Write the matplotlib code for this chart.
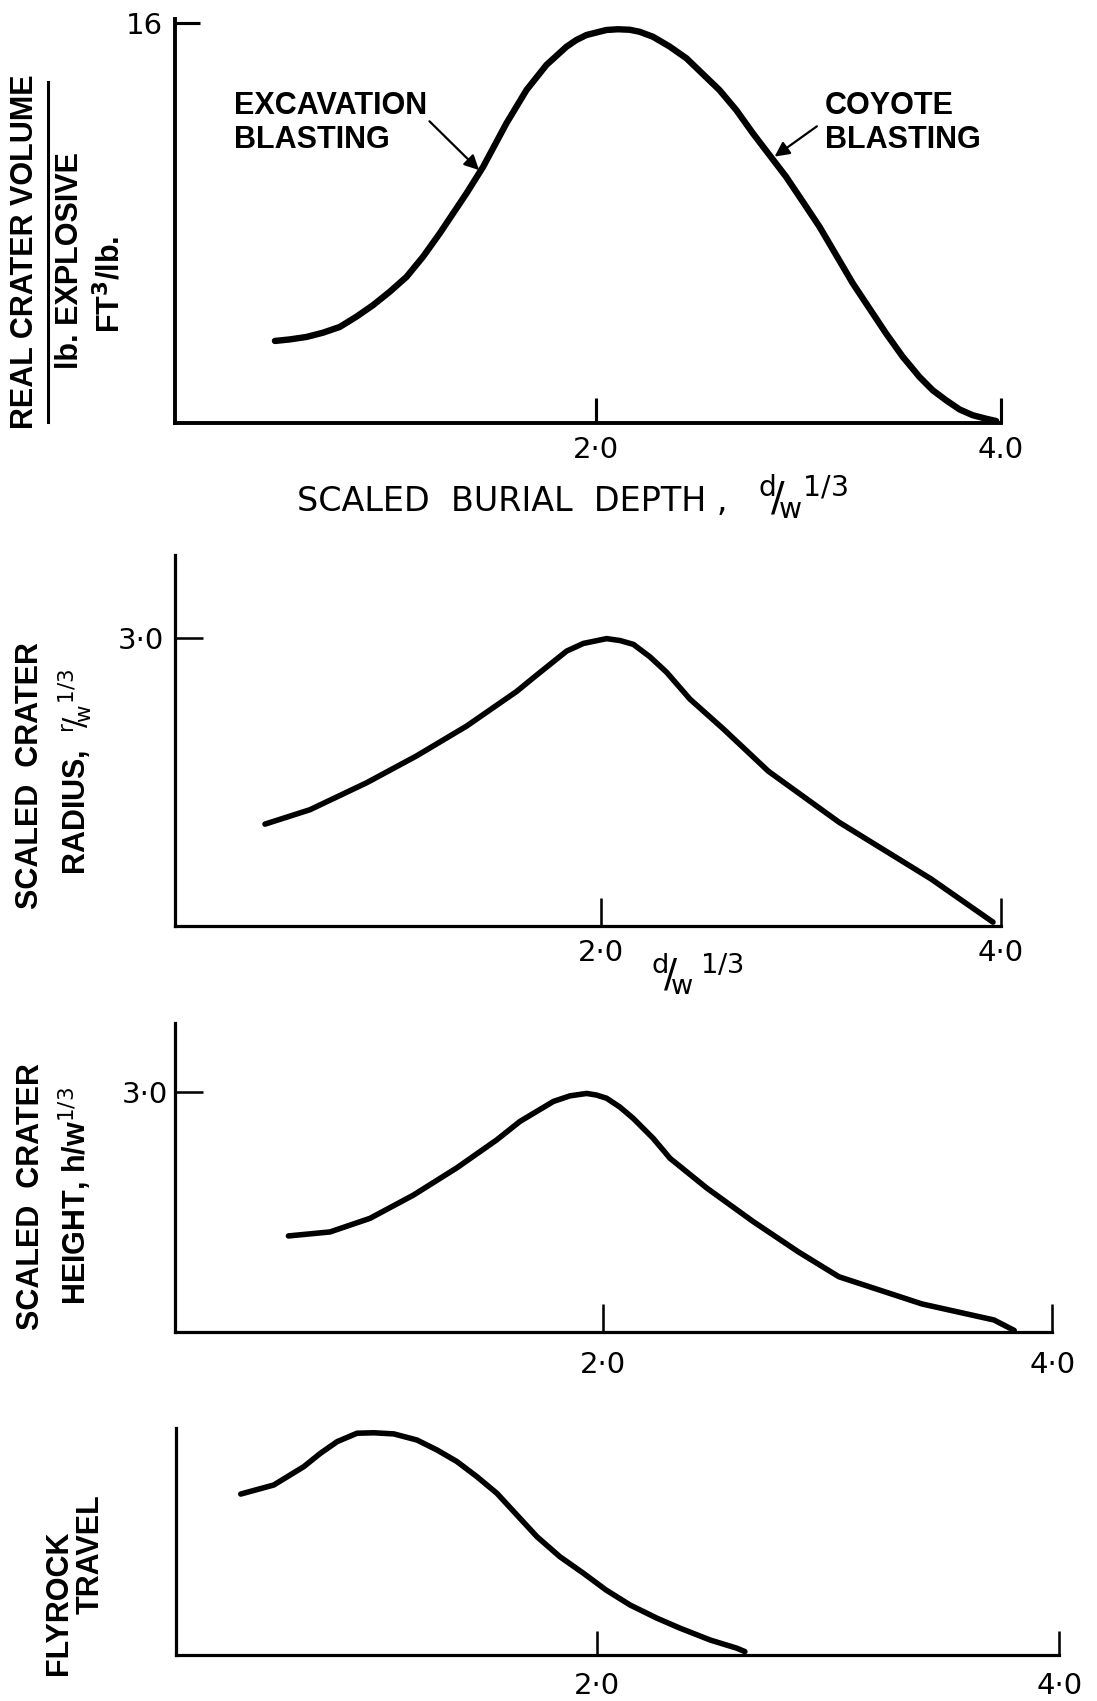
import matplotlib
matplotlib.use("Agg")
import matplotlib.pyplot as plt
from matplotlib.lines import Line2D

# ---------------- data ----------------
# Panel 1: real crater volume (ft^3/lb) vs scaled burial depth
vol_x = [0.418, 0.49, 0.574, 0.655, 0.738, 0.82, 0.902, 0.985, 1.067, 1.149, 1.231,
         1.297, 1.363, 1.445, 1.560, 1.659, 1.757, 1.856, 1.905, 1.955, 2.053, 2.11,
         2.168, 2.217, 2.283, 2.365, 2.448, 2.611, 2.694, 2.776, 2.858, 2.940, 3.022,
         3.105, 3.187, 3.269, 3.351, 3.433, 3.515, 3.598, 3.663, 3.729, 3.796, 3.861,
         3.927, 3.976]
vol_y = [3.30, 3.36, 3.46, 3.63, 3.86, 4.27, 4.73, 5.27, 5.86, 6.67, 7.60,
         8.4, 9.20, 10.26, 12.0, 13.33, 14.33, 15.06, 15.33, 15.53, 15.73, 15.76,
         15.74, 15.66, 15.46, 15.07, 14.6, 13.33, 12.53, 11.6, 10.73, 9.86, 8.87,
         7.86, 6.73, 5.6, 4.6, 3.6, 2.67, 1.86, 1.33, 0.93, 0.56, 0.33,
         0.19, 0.10]

# Panel 2: scaled crater radius
rad_x = [0.32, 0.545, 0.828, 1.078, 1.328, 1.578, 1.678, 1.828, 1.912, 2.028, 2.095,
         2.162, 2.245, 2.328, 2.445, 2.612, 2.837, 3.19, 3.65, 3.96]
rad_y = [1.06, 1.21, 1.49, 1.77, 2.08, 2.44, 2.61, 2.86, 2.94, 2.99, 2.97,
         2.93, 2.80, 2.64, 2.36, 2.05, 1.61, 1.08, 0.49, 0.04]

# Panel 3: scaled crater height
hgt_x = [0.60, 0.785, 0.963, 1.156, 1.349, 1.527, 1.630, 1.779, 1.853, 1.927, 1.971,
         2.016, 2.075, 2.134, 2.223, 2.298, 2.461, 2.668, 2.870, 3.05, 3.42, 3.74, 3.83]
hgt_y = [1.20, 1.25, 1.42, 1.71, 2.05, 2.40, 2.63, 2.88, 2.95, 2.98, 2.96,
         2.92, 2.81, 2.67, 2.42, 2.17, 1.80, 1.38, 1.00, 0.69, 0.35, 0.15, 0.02]

# Panel 4: flyrock travel (relative, no scale)
fly_x = [0.46, 0.603, 0.733, 0.805, 0.877, 0.963, 1.035, 1.122, 1.222, 1.309, 1.395,
         1.482, 1.568, 1.654, 1.741, 1.84, 1.942, 2.04, 2.144, 2.26, 2.360, 2.49,
         2.605, 2.64]
fly_y = [0.709, 0.749, 0.83, 0.889, 0.94, 0.977, 0.979, 0.974, 0.947, 0.903, 0.852,
         0.785, 0.712, 0.617, 0.521, 0.433, 0.36, 0.286, 0.22, 0.162, 0.118, 0.066,
         0.03, 0.015]

x_ticks = [2.0, 4.0]
x_ticklabels_p1 = ["2·0", "4.0"]
x_ticklabels = ["2·0", "4·0"]
vol_yticks = [16]
vol_yticklabels = ["16"]
crater_yticks = [3.0]
crater_yticklabels = ["3·0"]

# ---------------- layout helpers ----------------
W, H = 1097, 1701
fig = plt.figure(figsize=(W / 100, H / 100), dpi=100)
fig.patch.set_facecolor("white")

LABEL_FONT = ["Liberation Sans", "DejaVu Sans"]
TICK_FONT = ["DejaVu Sans"]


def fx(px):
    return px / W


def fy(py):
    return 1 - py / H


def make_axes(left, right, top, bottom):
    return fig.add_axes([fx(left), fy(bottom), (right - left) / W, (bottom - top) / H])


def style(ax, spine_w, xlabels, yticks, ylabels, tlen=18, xpad=8, ypad=8):
    for s in ("top", "right"):
        ax.spines[s].set_visible(False)
    for s in ("left", "bottom"):
        ax.spines[s].set_linewidth(spine_w)
        ax.spines[s].set_capstyle("projecting")
    ax.set_xticks(x_ticks)
    ax.set_xticklabels(xlabels, fontfamily=TICK_FONT, fontsize=21)
    ax.set_yticks(yticks)
    ax.set_yticklabels(ylabels, fontfamily=TICK_FONT, fontsize=21)
    ax.tick_params(axis="x", direction="in", length=tlen, width=spine_w * 0.8, pad=xpad)
    ax.tick_params(axis="y", direction="in", length=tlen, width=spine_w * 0.8, pad=ypad)
    ax.patch.set_alpha(0)


def ylab(x, y, s, size=22):
    fig.text(fx(x), fy(y), s, rotation=90, ha="center", va="center",
             rotation_mode="anchor", fontsize=size, fontweight="bold", fontfamily=LABEL_FONT)


LINE_KW = dict(color="black", solid_capstyle="round", solid_joinstyle="round")

# ---------------- panel 1 ----------------
ax1 = make_axes(175, 1001, 19.5, 423.5)
ax1.plot(vol_x, vol_y, lw=4.6, **LINE_KW)
ax1.set_xlim(-0.075, 4.0)
ax1.set_ylim(0, 16.15)
style(ax1, 2.8, x_ticklabels_p1, vol_yticks, vol_yticklabels, tlen=18, xpad=9, ypad=9)

ax1.annotate("EXCAVATION\nBLASTING", xy=(1.425, 10.13), xytext=(0.214, 13.3),
             ha="left", va="top", fontsize=22, fontweight="bold", fontfamily=LABEL_FONT,
             linespacing=1.2,
             arrowprops=dict(arrowstyle="-|>", color="black", lw=1.6, mutation_scale=22,
                             shrinkA=0, shrinkB=0, relpos=(0.99, 0.6)))
ax1.annotate("COYOTE\nBLASTING", xy=(2.883, 10.67), xytext=(3.13, 13.3),
             ha="left", va="top", fontsize=22, fontweight="bold", fontfamily=LABEL_FONT,
             linespacing=1.2,
             arrowprops=dict(arrowstyle="-|>", color="black", lw=1.6, mutation_scale=22,
                             shrinkA=0, shrinkB=0, relpos=(-0.05, 0.45)))

# y-label as a fraction
ylab(25.5, 252, "REAL CRATER VOLUME", 22)
fig.add_artist(Line2D([fx(48), fx(48)], [fy(82), fy(422)], color="black", lw=2.2))
ylab(70, 260, "lb. EXPLOSIVE", 22)
ylab(111, 284, r"FT$^{\mathbf{3}}$/lb.", 22)

fig.text(fx(512), fy(501), "SCALED  BURIAL  DEPTH ,",
         ha="center", va="center", fontsize=24, fontfamily=TICK_FONT)
fig.text(fx(803), fy(497), r"${}^{\mathrm{d}}\!/\!{}_{\mathrm{w}}{}^{1/3}$",
         ha="center", va="center", fontsize=29, fontfamily=TICK_FONT)

# ---------------- panel 2 ----------------
ax2 = make_axes(175, 1001, 555, 926)
ax2.plot(rad_x, rad_y, lw=4.0, **LINE_KW)
ax2.set_xlim(-0.13, 4.0)
ax2.set_ylim(0, 3.86)
style(ax2, 2.3, x_ticklabels, crater_yticks, crater_yticklabels, tlen=20, xpad=9, ypad=8)

fig.text(fx(698), fy(973), r"${}^{\mathrm{d}}\!/\!{}_{\mathrm{w}}\,{}^{1/3}$",
         ha="center", va="center", fontsize=28, fontfamily=TICK_FONT)
ylab(30, 776, "SCALED  CRATER")
ylab(75, 772, r"RADIUS,  ${}^{\mathrm{r}}\!/\!{}_{\mathrm{w}}{}^{1/3}$")

# ---------------- panel 3 ----------------
ax3 = make_axes(175, 1052.4, 1023, 1332)
ax3.plot(hgt_x, hgt_y, lw=4.0, **LINE_KW)
ax3.set_xlim(0.095, 4.0)
ax3.set_ylim(0, 3.86)
style(ax3, 2.3, x_ticklabels, crater_yticks, crater_yticklabels, tlen=20, xpad=14, ypad=5)

ylab(31, 1197, "SCALED  CRATER")
ylab(75, 1196, r"HEIGHT, h/w$^{1/3}$")

# ---------------- panel 4 ----------------
ax4 = make_axes(176, 1059.4, 1428, 1655)
ax4.plot(fly_x, fly_y, lw=4.0, **LINE_KW)
ax4.set_xlim(0.18, 4.0)
ax4.set_ylim(0, 1.0)
style(ax4, 2.3, x_ticklabels, [], [], tlen=17, xpad=12, ypad=5)

ylab(59, 1603, "FLYROCK")
ylab(91, 1554, "TRAVEL")

fig.savefig("out.png", dpi=100, facecolor="white")
